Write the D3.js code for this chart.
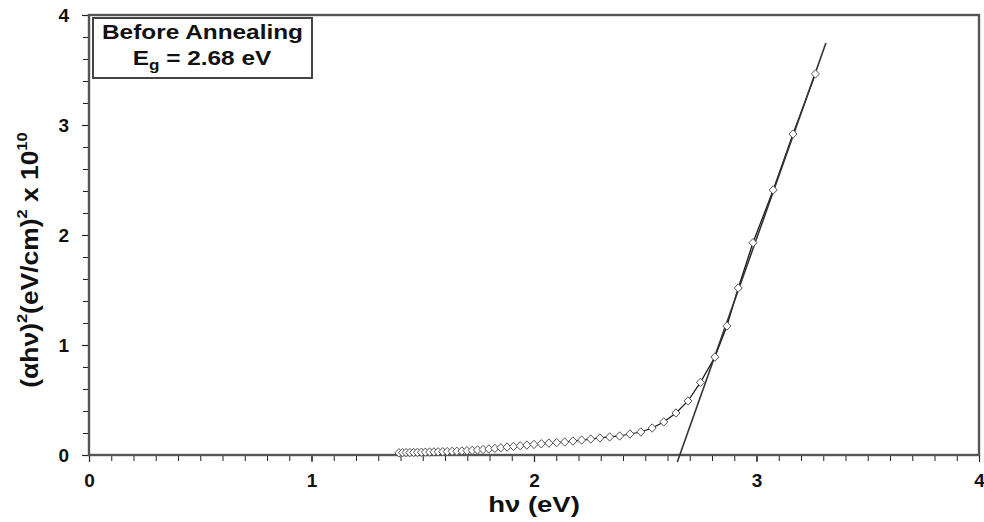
<!DOCTYPE html>
<html>
<head>
<meta charset="utf-8">
<script src="https://cdn.jsdelivr.net/npm/d3@7"></script>
<style>
  html, body { margin: 0; padding: 0; background: #fff; }
  svg { display: block; font-family: "Liberation Sans", Arial, sans-serif; }
</style>
</head>
<body>
<svg id="chart" width="984" height="522"></svg>
<script>
// ---- data ----
const photonEnergy = [1.393, 1.409, 1.425, 1.442, 1.459, 1.476, 1.494, 1.512, 1.531, 1.550,
  1.569, 1.590, 1.610, 1.632, 1.653, 1.676, 1.699, 1.722, 1.746, 1.771,
  1.797, 1.824, 1.851, 1.879, 1.908, 1.938, 1.968, 2.000, 2.033, 2.067,
  2.102, 2.138, 2.175, 2.214, 2.255, 2.296, 2.340, 2.385, 2.431, 2.480,
  2.531, 2.583, 2.638, 2.692, 2.748, 2.813, 2.867, 2.918, 2.984, 3.075,
  3.164, 3.265];
const absorption = [0.020, 0.021, 0.022, 0.022, 0.023, 0.024, 0.025, 0.026, 0.027, 0.028,
  0.029, 0.030, 0.031, 0.033, 0.034, 0.036, 0.039, 0.042, 0.046, 0.050,
  0.055, 0.060, 0.066, 0.072, 0.078, 0.084, 0.090, 0.096, 0.102, 0.108,
  0.113, 0.118, 0.127, 0.136, 0.145, 0.155, 0.164, 0.173, 0.191, 0.209,
  0.245, 0.300, 0.382, 0.491, 0.660, 0.891, 1.173, 1.518, 1.930, 2.410,
  2.918, 3.464];
const fitX = [2.644, 3.312];
const fitY = [-0.064, 3.745];
const xTickValues = [0, 1, 2, 3, 4];
const yTickValues = [0, 1, 2, 3, 4];
const legendTitle = "Before Annealing";
const legendValue = "2.68";

// ---- layout ----
const svg = d3.select("#chart");
const mLeft = 89, mRight = 979, mTop = 15, mBottom = 455;
const x = d3.scaleLinear().domain([0, 4]).range([mLeft, mRight]);
const y = d3.scaleLinear().domain([0, 4]).range([mBottom, mTop]);
const frameColor = "#555";
const fontFam = "'Liberation Sans', Arial, sans-serif";

// minor ticks
const xMinor = d3.range(0, 41).map(i => i / 10);
const yMinor = d3.range(0, 21).map(i => i / 5);

const gx = svg.append("g").attr("transform", `translate(0,${mBottom})`);
gx.call(d3.axisBottom(x).tickValues(xMinor).tickSize(6).tickFormat(""));
gx.select(".domain").remove();
gx.selectAll("line").attr("stroke", "#222").attr("stroke-width", 1);
const gx2 = svg.append("g").attr("transform", `translate(0,${mBottom})`);
gx2.call(d3.axisBottom(x).tickValues(xTickValues).tickSize(7).tickPadding(12).tickFormat(d3.format("d")));
gx2.select(".domain").remove();
gx2.selectAll("line").attr("stroke", "#222").attr("stroke-width", 1.2);
gx2.selectAll("text").attr("font-size", 19).attr("font-weight", "bold").attr("fill", "#111")
  .attr("font-family", fontFam);

const gy = svg.append("g").attr("transform", `translate(${mLeft},0)`);
gy.call(d3.axisLeft(y).tickValues(yMinor).tickSize(6).tickFormat(""));
gy.select(".domain").remove();
gy.selectAll("line").attr("stroke", "#222").attr("stroke-width", 1);
const gy2 = svg.append("g").attr("transform", `translate(${mLeft},0)`);
gy2.call(d3.axisLeft(y).tickValues(yTickValues).tickSize(7).tickPadding(13).tickFormat(d3.format("d")));
gy2.select(".domain").remove();
gy2.selectAll("line").attr("stroke", "#222").attr("stroke-width", 1.2);
gy2.selectAll("text").attr("font-size", 19).attr("font-weight", "bold").attr("fill", "#111")
  .attr("font-family", fontFam);

// frame
svg.append("rect").attr("x", mLeft).attr("y", mTop)
  .attr("width", mRight - mLeft).attr("height", mBottom - mTop)
  .attr("fill", "none").attr("stroke", frameColor).attr("stroke-width", 2.4);

// data line
const pts = photonEnergy.map((v, i) => ({ x: v, y: absorption[i] }));
svg.append("path").datum(pts)
  .attr("fill", "none").attr("stroke", "#111").attr("stroke-width", 1.2)
  .attr("d", d3.line().x(d => x(d.x)).y(d => y(d.y)));

// fit line
svg.append("line")
  .attr("x1", x(fitX[0])).attr("y1", y(fitY[0]))
  .attr("x2", x(fitX[1])).attr("y2", y(fitY[1]))
  .attr("stroke", "#333").attr("stroke-width", 1.6);

// markers
svg.append("g").selectAll("path").data(pts).join("path")
  .attr("transform", d => `translate(${x(d.x)},${y(d.y)})`)
  .attr("d", "M0,-4.2L4,0L0,4.2L-4,0Z")
  .attr("fill", "#fff").attr("stroke", "#555").attr("stroke-width", 1);

// legend box
svg.append("rect").attr("x", 93).attr("y", 18).attr("width", 219).attr("height", 60)
  .attr("fill", "#fff").attr("stroke", "#444").attr("stroke-width", 2);
svg.append("text").attr("transform", "translate(202.5,39) scale(1.22,1)").attr("text-anchor", "middle")
  .attr("font-size", 20).attr("font-weight", "bold").attr("fill", "#111")
  .text(legendTitle);
const t2 = svg.append("text").attr("transform", "translate(202,65) scale(1.22,1)").attr("text-anchor", "middle")
  .attr("font-size", 20).attr("font-weight", "bold").attr("fill", "#111");
t2.append("tspan").text("E");
t2.append("tspan").attr("font-size", 14).attr("dy", 5).text("g");
t2.append("tspan").attr("dy", -5).text(` = ${legendValue} eV`);

// axis titles
svg.append("text").attr("transform", `translate(${(mLeft + mRight) / 2},512) scale(1.25,1)`)
  .attr("text-anchor", "middle")
  .attr("font-size", 22).attr("font-weight", "bold").attr("fill", "#111")
  .text("hν (eV)");

const yt = svg.append("text").attr("transform", "translate(38,260) rotate(-90) scale(1.1,1)")
  .attr("text-anchor", "middle").attr("font-size", 24).attr("font-weight", "bold").attr("fill", "#111");
yt.append("tspan").text("(αhν)");
yt.append("tspan").attr("font-size", 15).attr("dy", -11).text("2");
yt.append("tspan").attr("dy", 11).text("(eV/cm)");
yt.append("tspan").attr("font-size", 15).attr("dy", -11).text("2");
yt.append("tspan").attr("dy", 11).text(" x 10");
yt.append("tspan").attr("font-size", 15).attr("dy", -11).text("10");
</script>
</body>
</html>
